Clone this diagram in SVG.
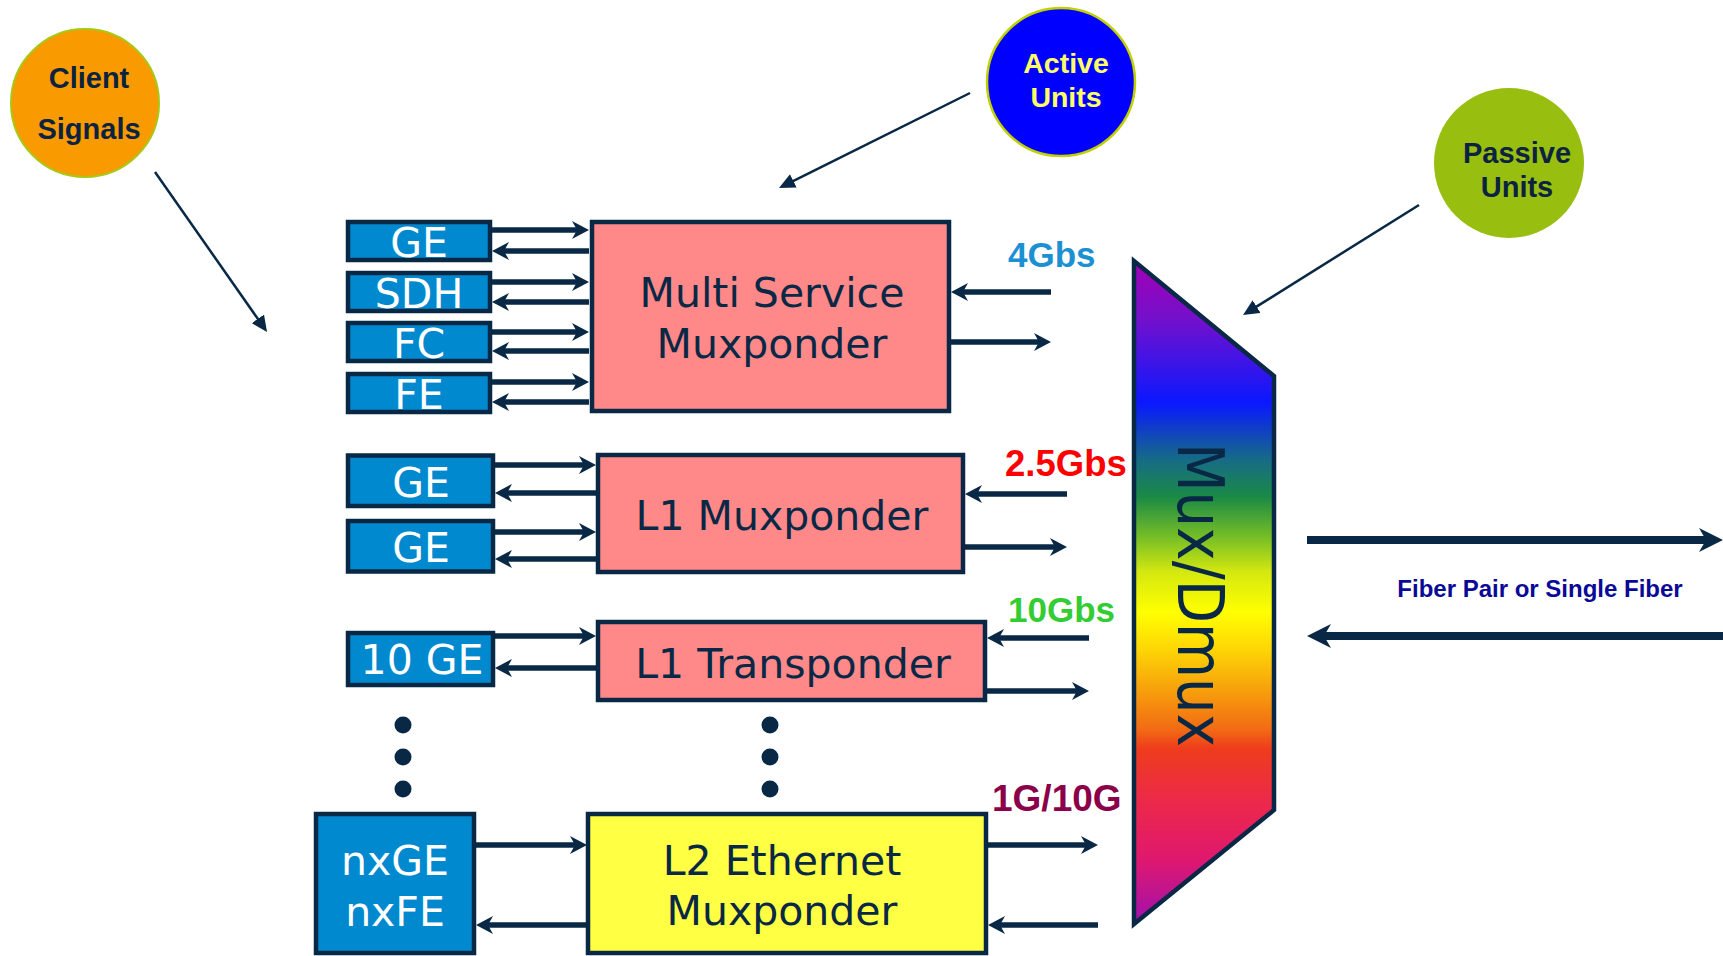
<svg xmlns="http://www.w3.org/2000/svg" width="1723" height="956" viewBox="0 0 1723 956">
<style>
.box{stroke:#082846;stroke-width:4.5}
.blue{fill:#0089CF}
.salmon{fill:#FF8888}
.yellow{fill:#FFFF44}
.wt{font-family:"DejaVu Sans",Verdana,sans-serif;font-size:41px;fill:#FFFFFF;text-anchor:middle}
.bt{font-family:"DejaVu Sans",Verdana,sans-serif;font-size:41px;fill:#082846;text-anchor:middle}
.lbl{font-family:"Liberation Sans",Arial,sans-serif;font-weight:bold;text-anchor:start}
.ct{font-family:"Liberation Sans",Arial,sans-serif;font-weight:bold;text-anchor:middle}
.ln{stroke:#082846;stroke-width:5.5;fill:none}
.thin{stroke:#082846;stroke-width:2.5;fill:none}
.fib{stroke:#082846;stroke-width:8;fill:none}
</style>
<defs>
<marker id="ah" viewBox="0 -9 17 18" refX="7" refY="0" markerWidth="17" markerHeight="18" markerUnits="userSpaceOnUse" orient="auto">
<path d="M0,-9 L17,0 L0,9 L5,0 Z" fill="#082846"/>
</marker>
<marker id="ahb" viewBox="0 -12 24 24" refX="10" refY="0" markerWidth="24" markerHeight="24" markerUnits="userSpaceOnUse" orient="auto">
<path d="M0,-12 L24,0 L0,12 L7,0 Z" fill="#082846"/>
</marker>
<marker id="aht" viewBox="0 -7.5 16 15" refX="2" refY="0" markerWidth="16" markerHeight="15" markerUnits="userSpaceOnUse" orient="auto">
<path d="M0,-7.5 L16,0 L0,7.5 Z" fill="#082846"/>
</marker>
<linearGradient id="rainbow" x1="0" y1="259" x2="0" y2="925" gradientUnits="userSpaceOnUse">
<stop offset="0" stop-color="#A400B4"/>
<stop offset="0.09" stop-color="#7410CC"/>
<stop offset="0.216" stop-color="#0A18FF"/>
<stop offset="0.30" stop-color="#166A88"/>
<stop offset="0.357" stop-color="#1A8A45"/>
<stop offset="0.42" stop-color="#7AC025"/>
<stop offset="0.47" stop-color="#D4E810"/>
<stop offset="0.53" stop-color="#FFFF00"/>
<stop offset="0.587" stop-color="#FDD505"/>
<stop offset="0.647" stop-color="#F7A00C"/>
<stop offset="0.707" stop-color="#F26A14"/>
<stop offset="0.735" stop-color="#EE3C1C"/>
<stop offset="0.81" stop-color="#EC2A48"/>
<stop offset="0.90" stop-color="#E0186E"/>
<stop offset="1" stop-color="#A010B0"/>
</linearGradient>
</defs>
<rect width="1723" height="956" fill="#FFFFFF"/>

<g id="connectors">
<line class="thin" x1="155" y1="172" x2="259" y2="320.5" marker-end="url(#aht)"/>
<line class="thin" x1="970" y1="93" x2="791.5" y2="181.8" marker-end="url(#aht)"/>
<line class="thin" x1="1419" y1="205" x2="1254.9" y2="307.6" marker-end="url(#aht)"/>

<line class="ln" x1="492" y1="230" x2="579" y2="230" marker-end="url(#ah)"/>
<line class="ln" x1="589" y1="251" x2="502" y2="251" marker-end="url(#ah)"/>
<line class="ln" x1="492" y1="282" x2="579" y2="282" marker-end="url(#ah)"/>
<line class="ln" x1="589" y1="302" x2="502" y2="302" marker-end="url(#ah)"/>
<line class="ln" x1="492" y1="332" x2="579" y2="332" marker-end="url(#ah)"/>
<line class="ln" x1="589" y1="351" x2="502" y2="351" marker-end="url(#ah)"/>
<line class="ln" x1="492" y1="382" x2="579" y2="382" marker-end="url(#ah)"/>
<line class="ln" x1="589" y1="402" x2="502" y2="402" marker-end="url(#ah)"/>
<line class="ln" x1="1051" y1="292" x2="961" y2="292" marker-end="url(#ah)"/>
<line class="ln" x1="951" y1="342" x2="1041" y2="342" marker-end="url(#ah)"/>

<line class="ln" x1="495" y1="465" x2="586" y2="465" marker-end="url(#ah)"/>
<line class="ln" x1="596" y1="493" x2="505" y2="493" marker-end="url(#ah)"/>
<line class="ln" x1="495" y1="532" x2="586" y2="532" marker-end="url(#ah)"/>
<line class="ln" x1="596" y1="559" x2="505" y2="559" marker-end="url(#ah)"/>
<line class="ln" x1="1067" y1="494" x2="975" y2="494" marker-end="url(#ah)"/>
<line class="ln" x1="965" y1="547" x2="1057" y2="547" marker-end="url(#ah)"/>

<line class="ln" x1="495" y1="636" x2="586" y2="636" marker-end="url(#ah)"/>
<line class="ln" x1="596" y1="668" x2="505" y2="668" marker-end="url(#ah)"/>
<line class="ln" x1="1089" y1="638" x2="997" y2="638" marker-end="url(#ah)"/>
<line class="ln" x1="987" y1="691" x2="1079" y2="691" marker-end="url(#ah)"/>

<line class="ln" x1="476" y1="845" x2="577" y2="845" marker-end="url(#ah)"/>
<line class="ln" x1="587" y1="925" x2="486" y2="925" marker-end="url(#ah)"/>
<line class="ln" x1="988" y1="845" x2="1088" y2="845" marker-end="url(#ah)"/>
<line class="ln" x1="1098" y1="925" x2="998" y2="925" marker-end="url(#ah)"/>

<line class="fib" x1="1307" y1="540" x2="1709" y2="540" marker-end="url(#ahb)"/>
<line class="fib" x1="1723" y1="636" x2="1321" y2="636" marker-end="url(#ahb)"/>
</g>

<g id="client-signals">
<circle cx="85" cy="103" r="74" fill="#F99A00" stroke="#A8C814" stroke-width="2"/>
<text class="ct" x="89" y="88" style="font-size:29px" fill="#0B2340">Client</text>
<text class="ct" x="89" y="139" style="font-size:29px" fill="#0B2340">Signals</text>
</g>

<g id="active-units">
<circle cx="1061" cy="82" r="74" fill="#0000FF" stroke="#C0D000" stroke-width="2.5"/>
<text class="ct" x="1066" y="73" style="font-size:28.5px" fill="#FFFF66">Active</text>
<text class="ct" x="1066" y="107" style="font-size:28.5px" fill="#FFFF66">Units</text>
</g>

<g id="passive-units">
<circle cx="1509" cy="163" r="75" fill="#98BE10"/>
<text class="ct" x="1517" y="163" style="font-size:29px" fill="#0B2340">Passive</text>
<text class="ct" x="1517" y="197" style="font-size:29px" fill="#0B2340">Units</text>
</g>

<g id="ms-ge"><rect class="box blue" x="348" y="222" width="142" height="38"/><text class="wt" x="419" y="257">GE</text></g>
<g id="ms-sdh"><rect class="box blue" x="348" y="273" width="142" height="38"/><text class="wt" x="419" y="308">SDH</text></g>
<g id="ms-fc"><rect class="box blue" x="348" y="323" width="142" height="38"/><text class="wt" x="419" y="358">FC</text></g>
<g id="ms-fe"><rect class="box blue" x="348" y="374" width="142" height="38"/><text class="wt" x="419" y="409">FE</text></g>

<g id="multi-service-muxponder">
<rect class="box salmon" x="592" y="222" width="357" height="189"/>
<text class="bt" x="772" y="307">Multi Service</text>
<text class="bt" x="772" y="358">Muxponder</text>
</g>

<g id="l1m-ge1"><rect class="box blue" x="348" y="455.5" width="145" height="50.5"/><text class="wt" x="421" y="497">GE</text></g>
<g id="l1m-ge2"><rect class="box blue" x="348" y="521" width="145" height="50.5"/><text class="wt" x="421" y="562">GE</text></g>

<g id="l1-muxponder">
<rect class="box salmon" x="598" y="455" width="365" height="117"/>
<text class="bt" x="782" y="530">L1 Muxponder</text>
</g>

<g id="l1t-10ge"><rect class="box blue" x="348" y="633" width="145" height="52"/><text class="wt" x="422" y="674">10 GE</text></g>

<g id="l1-transponder">
<rect class="box salmon" x="598" y="622" width="387" height="78"/>
<text class="bt" x="793" y="678">L1 Transponder</text>
</g>

<g id="dots">
<circle cx="403" cy="725" r="8.5" fill="#082846"/>
<circle cx="403" cy="757" r="8.5" fill="#082846"/>
<circle cx="403" cy="789" r="8.5" fill="#082846"/>
<circle cx="770" cy="725" r="8.5" fill="#082846"/>
<circle cx="770" cy="757" r="8.5" fill="#082846"/>
<circle cx="770" cy="789" r="8.5" fill="#082846"/>
</g>

<g id="l2-clients">
<rect class="box blue" x="316" y="814" width="158" height="139"/>
<text class="wt" x="395" y="875">nxGE</text>
<text class="wt" x="395" y="926">nxFE</text>
</g>

<g id="l2-ethernet-muxponder">
<rect class="box yellow" x="588" y="814" width="398" height="139"/>
<text class="bt" x="782" y="875">L2 Ethernet</text>
<text class="bt" x="782" y="925">Muxponder</text>
</g>

<g id="rates">
<text class="lbl" x="1008" y="267" style="font-size:35px" fill="#1B90D2">4Gbs</text>
<text class="lbl" x="1005" y="476" style="font-size:36.5px" fill="#FF0000">2.5Gbs</text>
<text class="lbl" x="1008" y="622" style="font-size:35px" fill="#33CC33">10Gbs</text>
<text class="lbl" x="992" y="811" style="font-size:37px" fill="#8B0048">1G/10G</text>
</g>

<g id="mux-dmux">
<polygon points="1134,261 1274,376 1274,810 1134,924" fill="url(#rainbow)" stroke="#082846" stroke-width="4.5"/>
<text transform="translate(1178,595) rotate(90)" font-family="DejaVu Sans,Verdana,sans-serif" font-size="64" fill="#082846" text-anchor="middle" textLength="304" lengthAdjust="spacingAndGlyphs">Mux/Dmux</text>
</g>

<g id="fiber-label">
<text x="1540" y="597" font-family="Liberation Sans,Arial,sans-serif" font-weight="bold" font-size="24" fill="#0A0A96" text-anchor="middle">Fiber Pair or Single Fiber</text>
</g>
</svg>
